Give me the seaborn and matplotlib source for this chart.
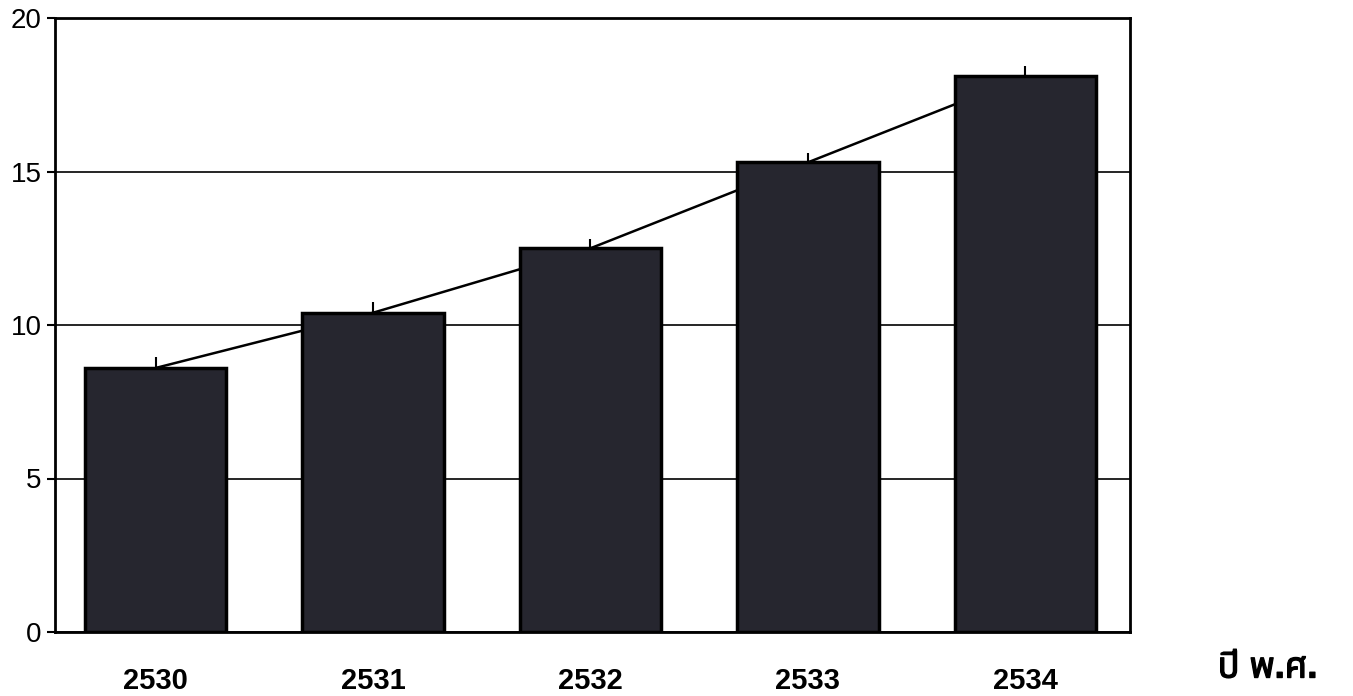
import numpy as np
import pandas as pd
import matplotlib
matplotlib.use('Agg')
import matplotlib.pyplot as plt
import matplotlib.patheffects as pe
import seaborn as sns

# data
years = ['2530', '2531', '2532', '2533', '2534']
values = [8.6, 10.4, 12.5, 15.3, 18.1]
err_up = [0.35, 0.35, 0.3, 0.3, 0.35]
y_ticks = [0, 5, 10, 15, 20]
x_title = 'ปี พ.ศ.'

sns.set_style('white')
plt.rcParams['font.family'] = ['Liberation Sans', 'Noto Sans Thai', 'Noto Sans', 'DejaVu Sans']
plt.rcParams['text.color'] = 'black'
plt.rcParams['xtick.color'] = 'black'
plt.rcParams['ytick.color'] = 'black'

df = pd.DataFrame({'year': years, 'value': values})

fig = plt.figure(figsize=(13.53, 6.96), dpi=100)
ax = fig.add_axes([0.041, 0.092, 0.794, 0.882])

sns.barplot(data=df, x='year', y='value', color='#26262f', saturation=1,
            width=0.65, edgecolor='black', linewidth=2.5, ax=ax, zorder=3)

# trend line behind the bars, from bar top to bar top
ax.plot(range(len(years)), values, color='black', linewidth=1.8, zorder=2)
# small tick above each bar
ax.errorbar(range(len(years)), values, yerr=[[0] * len(values), err_up],
            fmt='none', ecolor='black', elinewidth=1.5, capsize=0, zorder=4)

ax.set_ylim(0, 20)
ax.set_xlim(-0.46, len(years) - 0.52)
ax.set_yticks(y_ticks)
ax.set_yticklabels([str(t) for t in y_ticks], fontsize=20)
ax.yaxis.grid(True, color='black', linewidth=1.2)
ax.set_axisbelow(True)
ax.tick_params(axis='y', which='both', left=True, length=6, width=1.5, color='black', pad=4)
ax.tick_params(axis='x', bottom=False, pad=22)
for lab in ax.get_xticklabels():
    lab.set_fontsize(21)
    lab.set_fontweight('bold')
ax.set_xlabel('')
ax.set_ylabel('')
for sp in ax.spines.values():
    sp.set_color('black')
    sp.set_linewidth(2)

# no bold Thai face installed, so thicken the glyphs a little with a stroke
fig.text(0.9, 0.015, x_title, fontsize=26, fontweight='bold', ha='left', va='bottom',
         path_effects=[pe.withStroke(linewidth=0.9, foreground='black')])

fig.savefig('out.png', dpi=100)
